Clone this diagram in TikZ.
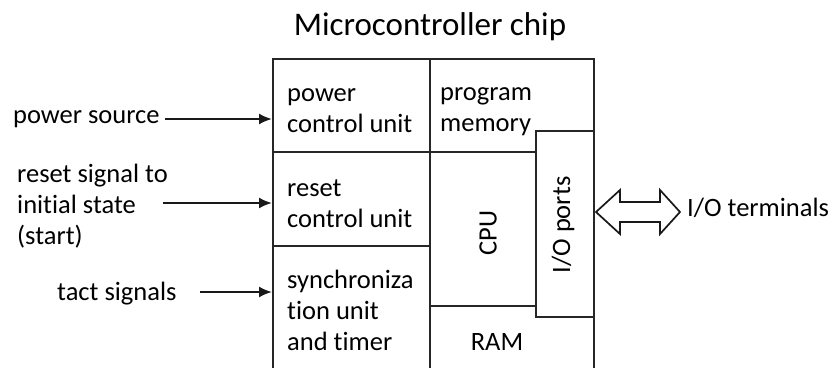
\documentclass[tikz,border=0pt]{standalone}
\usepackage{fontspec}
\setmainfont{Carlito}[Ligatures=NoCommon]
\usetikzlibrary{arrows.meta}
\begin{document}
\begin{tikzpicture}[x=1pt,y=-1pt,
  txt/.style={font=\fontsize{26.5}{31}\selectfont, inner sep=0pt, anchor=base west, align=left},
  wall/.style={draw=black!85, line width=1.7pt},
  arr/.style={draw=black!90, line width=2pt, -{Latex[length=13pt,width=11pt]}}]
\clip (0,0) rectangle (838,367);
\fill[white] (0,0) rectangle (838,367);
% title
\node[txt, anchor=base, font=\fontsize{33}{40}\selectfont] (title) at (430,35) {Microcontroller chip};
% chip outline and cells
\node[wall, minimum width=321pt, minimum height=330pt, anchor=north west, inner sep=0pt] (chip) at (272,58) {};
\node[wall, minimum width=58pt, minimum height=186pt, anchor=north west, inner sep=0pt] (io) at (535,130) {};
\draw[wall] (430,58) -- (430,380);
\draw[wall] (272,152) -- (430,152);
\draw[wall] (272,246) -- (430,246);
\draw[wall] (430,152) -- (io.west |- 0,152);
\draw[wall] (430,306) -- (io.west |- 0,306);
% cell texts (base = last line)
\node[txt] (pcu) at (287,132) {power\\control unit};
\node[txt] (pm) at (440,131) {program\\memory};
\node[txt] (rcu) at (287,227) {reset\\control unit};
\node[txt] (sync) at (287,350) {synchroniza\\tion unit\\and timer};
\node[txt, anchor=base] (ram) at (497,350) {RAM};
\node[txt, anchor=center, rotate=90] (cpu) at (488,233) {CPU};
\node[txt, anchor=center, rotate=90] (iol) at (563,225) {I/O ports};
% inputs
\node[txt] (psrc) at (13,123) {power source};
\node[txt] (rsig) at (17,244) {reset signal to\\initial state\\(start)};
\node[txt] (tact) at (57,300) {tact signals};
\coordinate (p1) at (165,119);
\coordinate (p2) at (163,203);
\coordinate (p3) at (200,292);
\draw[arr] (p1) -- (chip.west |- p1);
\draw[arr] (p2) -- (chip.west |- p2);
\draw[arr] (p3) -- (chip.west |- p3);
% I/O terminals
\node[txt] (term) at (687,216) {I/O terminals};
\coordinate (dl) at (596,212);
\coordinate (dr) at (680,212);
\draw[draw=black!90, line width=1.7pt, line join=miter]
  (dl) -- ++(24,-22) -- ++(0,12) -- ++(40,0) -- ++(0,-12) -- (dr)
  -- ++(-20,22) -- ++(0,-12) -- ++(-40,0) -- ++(0,12) -- cycle;
\end{tikzpicture}
\end{document}
